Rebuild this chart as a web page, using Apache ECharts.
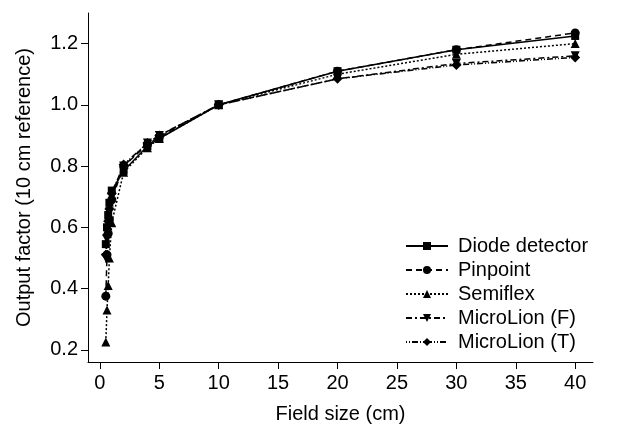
<!DOCTYPE html>
<html>
<head>
<meta charset="utf-8">
<script src="https://cdn.jsdelivr.net/npm/echarts@6/dist/echarts.min.js"></script>
<style>html,body{margin:0;padding:0;background:#fff}#c{width:633px;height:430px}</style>
</head>
<body>
<div id="c"></div>
<script>
const fieldSizes = [0.5, 0.6, 0.7, 0.8, 1, 2, 4, 5, 10, 20, 30, 40];
const diode      = [0.545, 0.60, 0.64, 0.68, 0.72, 0.785, 0.865, 0.89, 1.0, 1.11, 1.18, 1.225];
const pinpoint   = [0.375, 0.51, 0.58, 0.625, 0.69, 0.80, 0.87, 0.895, 1.0, 1.11, 1.18, 1.235];
const semiflex   = [0.225, 0.33, 0.41, 0.50, 0.615, 0.78, 0.86, 0.89, 1.0, 1.10, 1.165, 1.20];
const microF     = [0.50, 0.56, 0.61, 0.65, 0.70, 0.80, 0.875, 0.90, 1.0, 1.085, 1.135, 1.16];
const microT     = [0.51, 0.575, 0.62, 0.66, 0.71, 0.805, 0.875, 0.90, 1.0, 1.085, 1.13, 1.155];
const seriesNames = ['Diode detector', 'Pinpoint', 'Semiflex', 'MicroLion (F)', 'MicroLion (T)'];
const xTicks = [0, 5, 10, 15, 20, 25, 30, 35, 40];
const yTicks = [0.2, 0.4, 0.6, 0.8, 1.0, 1.2];

const FONT = '"Liberation Sans", Arial, sans-serif';
const FS = 20;
const zip = ys => fieldSizes.map((x, i) => [x, ys[i]]);
const styles = [
  {data: diode, symbol: 'rect', size: 8, type: 'solid'},
  {data: pinpoint, symbol: 'circle', size: 9, type: [6, 4]},
  {data: semiflex, symbol: 'triangle', size: 9, type: [2, 2]},
  {data: microF, symbol: 'path://M0,0 L10,0 L5,9 Z', size: 9, type: [6, 3, 2, 3]},
  {data: microT, symbol: 'diamond', size: 10, type: [1, 2, 1, 2, 6, 2]}
];

const chart = echarts.init(document.getElementById('c'), null, {renderer: 'canvas'});
chart.setOption({
  animation: false,
  backgroundColor: '#fff',
  textStyle: {fontFamily: FONT, color: '#000'},
  grid: {left: 88, right: 40, top: 13, bottom: 68},
  legend: {
    orient: 'vertical',
    left: 400,
    top: 231,
    itemWidth: 42,
    itemHeight: 10,
    itemGap: 4,
    data: seriesNames,
    textStyle: {fontFamily: FONT, fontSize: FS, color: '#000', padding: [0, 0, 0, 5]}
  },
  xAxis: {
    type: 'value',
    min: -1,
    max: 41.5,
    name: 'Field size (cm)',
    nameLocation: 'middle',
    nameGap: 42,
    nameTextStyle: {fontFamily: FONT, fontSize: FS, color: '#000'},
    axisLine: {show: true, onZero: false, lineStyle: {color: '#000', width: 1}},
    axisTick: {show: true, length: 7, customValues: xTicks, lineStyle: {color: '#000'}},
    axisLabel: {customValues: xTicks, fontFamily: FONT, fontSize: FS, color: '#000', margin: 11},
    splitLine: {show: false}
  },
  yAxis: {
    type: 'value',
    min: 0.16,
    max: 1.3,
    name: 'Output factor (10 cm reference)',
    nameLocation: 'middle',
    nameGap: 54,
    nameTextStyle: {fontFamily: FONT, fontSize: FS, color: '#000'},
    axisLine: {show: true, onZero: false, lineStyle: {color: '#000', width: 1}},
    axisTick: {show: true, length: 7, customValues: yTicks, lineStyle: {color: '#000'}},
    axisLabel: {customValues: yTicks, fontFamily: FONT, fontSize: FS, color: '#000', margin: 10,
      formatter: v => v.toFixed(1)},
    splitLine: {show: false}
  },
  series: styles.map((s, i) => ({
    name: seriesNames[i],
    type: 'line',
    data: zip(s.data),
    symbol: s.symbol,
    symbolSize: s.size,
    showSymbol: true,
    itemStyle: {color: '#000'},
    lineStyle: {color: '#000', width: 1.5, type: s.type},
    emphasis: {disabled: true}
  }))
});
</script>
</body>
</html>
